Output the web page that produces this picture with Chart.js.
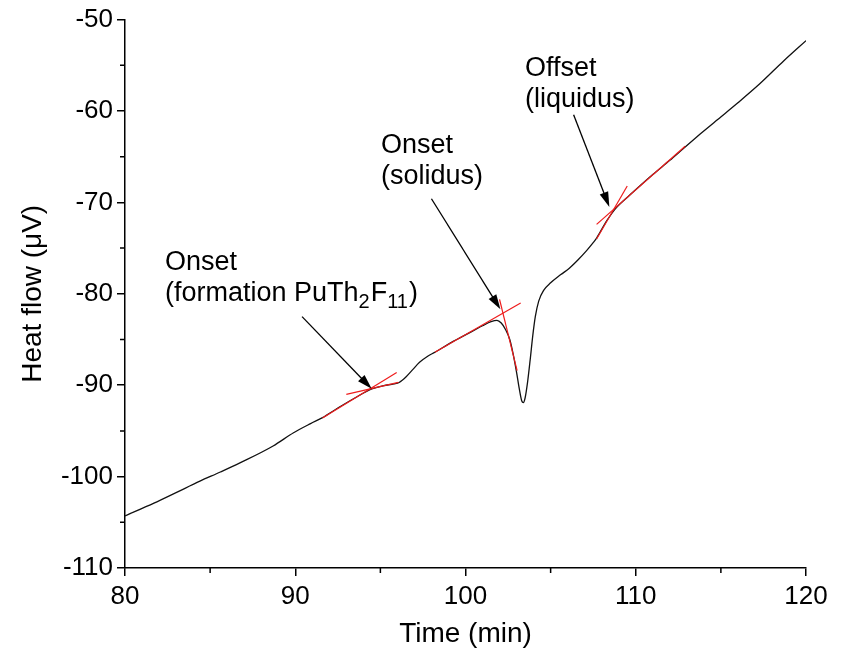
<!DOCTYPE html>
<html>
<head>
<meta charset="utf-8">
<script src="https://cdn.jsdelivr.net/npm/chart.js@4.4.1/dist/chart.umd.min.js"></script>
<style>
  html, body { margin: 0; padding: 0; background: #fff; }
  #wrap { width: 843px; height: 651px; }
</style>
</head>
<body>
<div id="wrap"><canvas id="dscChart" width="843" height="651"></canvas></div>
<script>
// DSC heating trace: time (min) vs heat flow (µV)
const time = [
  80.0, 81.7, 83.0, 84.4, 85.6, 86.75, 88.7, 89.9, 90.9, 91.6,
  92.5, 93.5, 94.5, 95.2, 95.8, 96.1, 96.5, 96.9, 97.3, 97.8,
  98.2, 99.0, 100.0, 101.0, 101.5, 101.85, 102.1, 102.35, 102.6, 102.8,
  103.0, 103.15, 103.3, 103.4, 103.5, 103.65, 103.8, 103.95, 104.1, 104.3,
  104.6, 105.0, 105.6, 106.1, 106.6, 107.1, 107.5, 107.7, 108.3, 108.8,
  109.65, 110.3, 111.0, 112.0, 112.8, 113.8, 114.7, 116.0, 117.3, 118.7,
  120.0
];
const heatFlow = [
  -104.3, -102.9, -101.75, -100.5, -99.5, -98.5, -96.65, -95.2, -94.2, -93.55,
  -92.5, -91.4, -90.4, -90.05, -89.85, -89.7, -89.1, -88.3, -87.5, -86.8,
  -86.4, -85.5, -84.5, -83.5, -83.05, -82.9, -83.2, -83.9, -85.0, -86.6,
  -88.6, -90.3, -91.7, -91.9, -91.4, -89.6, -87.2, -84.6, -82.5, -80.8,
  -79.6, -78.8, -77.9, -77.2, -76.3, -75.3, -74.4, -73.9, -72.0, -70.7,
  -69.2, -68.1, -66.95, -65.4, -64.1, -62.5, -61.1, -59.1, -57.0, -54.5,
  -52.3
];

// tangent constructions, two end points each [time, heat flow]
const tangentBase1 = [[91.6, -93.6], [95.96, -88.6]];
const tangentEdge1 = [[93.0, -91.0], [96.06, -89.7]];
const tangentBase2 = [[98.2, -86.4], [103.24, -81.0]];
const tangentEdge2 = [[102.0, -80.6], [103.03, -88.4]];
const tangentEdge3 = [[107.7, -74.0], [109.5, -68.2]];
const tangentBase3 = [[107.7, -72.4], [112.9, -63.85]];

// axis ticks
const xMinor = [85, 95, 105, 115];
const yMinor = [-105, -95, -85, -75, -65, -55];

// annotations: text lines, first baseline, arrow start and tip (axis units)
const noteText = [
  ['Onset', '(formation PuTh_{2}F_{11})'],
  ['Onset', '(solidus)'],
  ['Offset', '(liquidus)']
];
const noteAnchor = [[82.35, -77.4], [95.03, -64.6], [103.49, -56.2]];
const arrowFrom = [[90.4, -82.5], [98.0, -69.6], [106.35, -60.4]];
const arrowTo = [[94.49, -90.4], [102.05, -81.7], [108.45, -70.5]];

const FONT = "'Liberation Sans', Arial, sans-serif";
const RED = '#ee1c1c';

const toXY = pts => pts.map(p => ({ x: p[0], y: p[1] }));

function tangentSet(pts) {
  return {
    data: toXY(pts),
    borderColor: RED,
    borderWidth: 1.2,
    pointRadius: 0,
    tension: 0
  };
}

// text with _{..} parts drawn as subscripts
function drawRich(ctx, text, x, y) {
  const parts = text.split(/_\{([^}]*)\}/);
  let cx = x;
  parts.forEach((part, i) => {
    if (!part) return;
    const sub = i % 2 === 1;
    ctx.font = (sub ? 20 : 27) + 'px ' + FONT;
    ctx.fillText(part, cx, sub ? y + 7 : y);
    cx += ctx.measureText(part).width + (sub ? 1 : 0);
  });
}

const notesPlugin = {
  id: 'notes',
  afterDatasetsDraw(chart) {
    const { ctx, scales: { x, y } } = chart;
    ctx.save();
    ctx.strokeStyle = '#000';
    ctx.fillStyle = '#000';
    ctx.lineWidth = 1.3;
    arrowFrom.forEach((p, i) => {
      const x0 = x.getPixelForValue(p[0]), y0 = y.getPixelForValue(p[1]);
      const x1 = x.getPixelForValue(arrowTo[i][0]), y1 = y.getPixelForValue(arrowTo[i][1]);
      const ang = Math.atan2(y1 - y0, x1 - x0);
      const c = Math.cos(ang), s = Math.sin(ang);
      const head = 15, half = 4.5;
      ctx.beginPath();
      ctx.moveTo(x0, y0);
      ctx.lineTo(x1 - c * head * 0.8, y1 - s * head * 0.8);
      ctx.stroke();
      ctx.beginPath();
      ctx.moveTo(x1, y1);
      ctx.lineTo(x1 - c * head + s * half, y1 - s * head - c * half);
      ctx.lineTo(x1 - c * head - s * half, y1 - s * head + c * half);
      ctx.closePath();
      ctx.fill();
    });
    ctx.textAlign = 'left';
    ctx.textBaseline = 'alphabetic';
    noteText.forEach((lines, i) => {
      const left = x.getPixelForValue(noteAnchor[i][0]);
      const base = y.getPixelForValue(noteAnchor[i][1]);
      lines.forEach((line, k) => drawRich(ctx, line, left, base + k * 31));
    });
    ctx.restore();
  }
};

const minorTicksPlugin = {
  id: 'minorTicks',
  afterDraw(chart) {
    const { ctx, chartArea, scales: { x, y } } = chart;
    ctx.save();
    ctx.strokeStyle = '#000';
    ctx.lineWidth = 1.5;
    ctx.beginPath();
    xMinor.forEach(t => {
      const px = x.getPixelForValue(t);
      ctx.moveTo(px, chartArea.bottom);
      ctx.lineTo(px, chartArea.bottom + 5);
    });
    yMinor.forEach(v => {
      const py = y.getPixelForValue(v);
      ctx.moveTo(chartArea.left, py);
      ctx.lineTo(chartArea.left - 5, py);
    });
    ctx.stroke();
    ctx.restore();
  }
};

const axisGrid = { drawOnChartArea: false, drawTicks: true, tickLength: 8, color: '#000', lineWidth: 1.5 };
const axisBorder = { display: true, color: '#000', width: 1.5 };

new Chart(document.getElementById('dscChart'), {
  type: 'line',
  data: {
    datasets: [
      tangentSet(tangentBase1),
      tangentSet(tangentEdge1),
      tangentSet(tangentBase2),
      tangentSet(tangentEdge2),
      tangentSet(tangentEdge3),
      tangentSet(tangentBase3),
      {
        data: time.map((t, i) => ({ x: t, y: heatFlow[i] })),
        borderColor: '#111',
        borderWidth: 1.3,
        pointRadius: 0,
        cubicInterpolationMode: 'monotone'
      }
    ]
  },
  options: {
    responsive: false,
    animation: false,
    layout: { padding: { top: 18, right: 37, left: 0, bottom: 0 } },
    plugins: { legend: { display: false }, tooltip: { enabled: false } },
    scales: {
      x: {
        type: 'linear',
        min: 80,
        max: 120,
        ticks: { stepSize: 10, autoSkip: false, maxRotation: 0, padding: 5, color: '#000', font: { family: FONT, size: 26 } },
        grid: axisGrid,
        border: axisBorder,
        title: { display: true, text: 'Time (min)', color: '#000', font: { family: FONT, size: 28 }, padding: { top: 0, bottom: 0 } },
        afterFit(scale) { scale.height = 83; }
      },
      y: {
        type: 'linear',
        min: -110,
        max: -50,
        ticks: { stepSize: 10, autoSkip: false, padding: 4, color: '#000', font: { family: FONT, size: 26 } },
        grid: axisGrid,
        border: axisBorder,
        title: { display: true, text: 'Heat flow (μV)', color: '#000', font: { family: FONT, size: 28 }, padding: { top: 16, bottom: 0 } },
        afterFit(scale) { scale.width = 125; }
      }
    }
  },
  plugins: [minorTicksPlugin, notesPlugin]
});
</script>
</body>
</html>
